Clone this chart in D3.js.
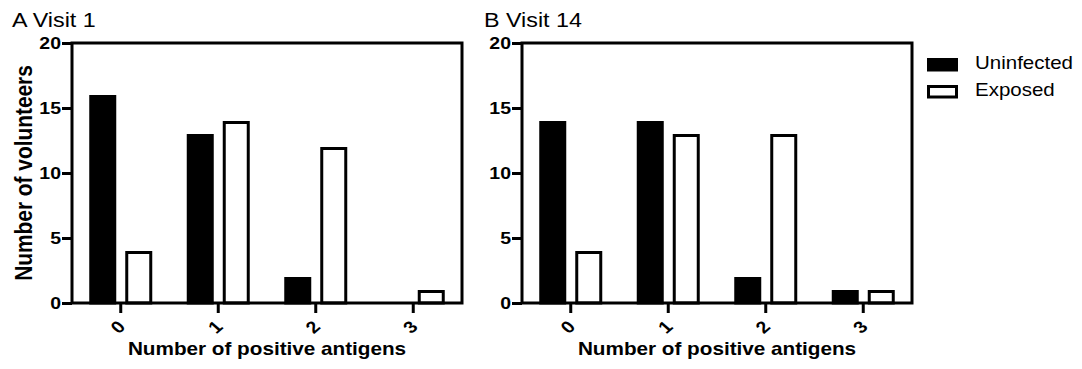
<!DOCTYPE html>
<html>
<head>
<meta charset="utf-8">
<script src="https://cdn.jsdelivr.net/npm/d3@7"></script>
<style>
  html, body { margin: 0; padding: 0; background: #fff; }
  svg { display: block; }
  text { font-family: "Liberation Sans", Arial, Helvetica, sans-serif; fill: #000; }
</style>
</head>
<body>
<svg id="chart" width="1082" height="369"></svg>
<script>
// ---- data ----
const categories = ["0", "1", "2", "3"];
const seriesNames = ["Uninfected", "Exposed"];
const visit1Uninfected = [16, 13, 2, 0];
const visit1Exposed = [4, 14, 12, 1];
const visit14Uninfected = [14, 14, 2, 1];
const visit14Exposed = [4, 13, 13, 1];
const yTicks = [0, 5, 10, 15, 20];
const panelTitles = ["A Visit 1", "B Visit 14"];
const xTitle = "Number of positive antigens";
const yTitle = "Number of volunteers";

const panels = [
  { title: panelTitles[0], values: [visit1Uninfected, visit1Exposed], x0: 72, x1: 462, titleX: 12, showYTitle: true },
  { title: panelTitles[1], values: [visit14Uninfected, visit14Exposed], x0: 522, x1: 912, titleX: 484, showYTitle: false }
];

const svg = d3.select("#chart");
const SY = 0.87; // vertical squeeze of text in the original rendering
const plotTop = 43, plotBottom = 303;
const y = d3.scaleLinear().domain([0, 20]).range([plotBottom, plotTop]);
const fills = { "Uninfected": "#000", "Exposed": "#fff" };
const SW = 3;

panels.forEach(p => {
  const g = svg.append("g");
  const x = d3.scaleBand().domain(categories).range([p.x0, p.x1]).padding(0);
  const mid = x.bandwidth() / 2;
  const xs = d3.scaleBand().domain(seriesNames).range([mid - 31.5, mid + 31.5]).paddingInner(0.25).paddingOuter(0);

  // title
  g.append("text")
    .attr("transform", `translate(${p.titleX},27) scale(1,${SY})`)
    .attr("font-size", 23.3)
    .text(p.title);

  // bars
  seriesNames.forEach((s, si) => {
    g.selectAll(null)
      .data(categories.map((c, i) => ({ c, v: p.values[si][i] })).filter(d => d.v > 0))
      .enter().append("rect")
      .attr("x", d => x(d.c) + xs(s) + SW / 2)
      .attr("width", xs.bandwidth() - SW)
      .attr("y", d => y(d.v) + SW / 2)
      .attr("height", d => y(0) - y(d.v) - SW / 2)
      .attr("fill", fills[s])
      .attr("stroke", "#000")
      .attr("stroke-width", SW);
  });

  // frame
  g.append("rect")
    .attr("x", p.x0).attr("y", plotTop)
    .attr("width", p.x1 - p.x0).attr("height", plotBottom - plotTop)
    .attr("fill", "none").attr("stroke", "#000").attr("stroke-width", SW);

  // y axis ticks
  const ya = d3.axisLeft(y).tickValues(yTicks).tickSize(10).tickFormat("");
  const yg = g.append("g").attr("transform", `translate(${p.x0},0)`).call(ya);
  yg.select(".domain").remove();
  yg.selectAll(".tick line").attr("stroke", "#000").attr("stroke-width", SW);
  yTicks.forEach(t => {
    g.append("text")
      .attr("transform", `translate(${p.x0 - 11},${y(t) + 6}) scale(1,${SY})`)
      .attr("text-anchor", "end")
      .attr("font-size", 19.5)
      .attr("font-weight", "bold")
      .text(t);
  });

  // x axis ticks
  const xa = d3.axisBottom(x).tickSize(10).tickFormat("");
  const xg = g.append("g").attr("transform", `translate(0,${plotBottom})`).call(xa);
  xg.select(".domain").remove();
  xg.selectAll(".tick line").attr("stroke", "#000").attr("stroke-width", SW);
  categories.forEach(c => {
    g.append("text")
      .attr("transform", `translate(${x(c) + mid - 3},${plotBottom + 24}) scale(1,${SY}) rotate(-45)`)
      .attr("text-anchor", "middle")
      .attr("dominant-baseline", "central")
      .attr("font-size", 19.5)
      .attr("font-weight", "bold")
      .text(c);
  });

  // x title
  g.append("text")
    .attr("transform", `translate(${(p.x0 + p.x1) / 2},355) scale(1,${SY})`)
    .attr("text-anchor", "middle")
    .attr("font-size", 20.7)
    .attr("font-weight", "bold")
    .text(xTitle);

  if (p.showYTitle) {
    g.append("text")
      .attr("transform", `translate(32,${(plotTop + plotBottom) / 2}) scale(1,${SY}) rotate(-90)`)
      .attr("text-anchor", "middle")
      .attr("font-size", 24)
      .attr("font-weight", "bold")
      .text(yTitle);
  }
});

// legend
const lg = svg.append("g");
seriesNames.forEach((s, i) => {
  const ly = 58 + i * 27;
  lg.append("rect")
    .attr("x", 927 + SW / 2).attr("y", ly + SW / 2)
    .attr("width", 31 - SW).attr("height", 13.5 - SW)
    .attr("fill", fills[s]).attr("stroke", "#000").attr("stroke-width", SW);
  lg.append("text")
    .attr("transform", `translate(975,${ly + 10.5}) scale(1,${SY})`)
    .attr("font-size", 20.5)
    .text(s);
});
</script>
</body>
</html>
